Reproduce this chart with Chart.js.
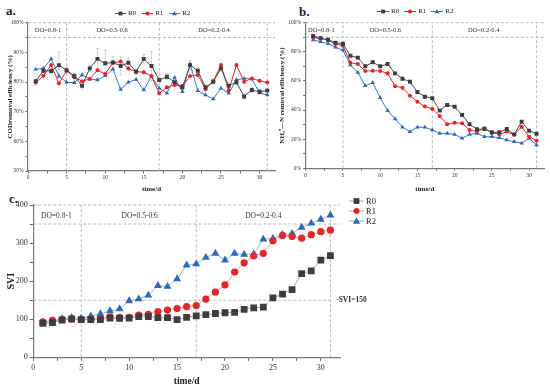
<!DOCTYPE html>
<html>
<head>
<meta charset="utf-8">
<script src="https://cdn.jsdelivr.net/npm/chart.js@4.4.1/dist/chart.umd.min.js"></script>
<style>
html, body { margin: 0; padding: 0; background: #fff; }
body { width: 550px; height: 390px; position: relative; overflow: hidden; font-family: "Liberation Serif", serif; color: #222; }
.panel { position: absolute; }
.tag { position: absolute; font-weight: bold; font-size: 13px; line-height: 1; }
.legend { position: absolute; display: flex; align-items: center; line-height: 1; }
.legend.col { flex-direction: column; align-items: flex-start; }
.item { display: flex; align-items: center; }
.item svg { display: block; }
</style>
</head>
<body>
<div class="tag" style="left:6px;top:4px">a.</div>
<div class="tag" style="left:299px;top:5px">b.</div>
<div class="tag" style="left:9px;top:192px">c.</div>

<div class="panel" style="left:0;top:0;width:280px;height:195px"><canvas id="chartA" width="280" height="195"></canvas></div>
<div class="panel" style="left:276px;top:0;width:272px;height:195px"><canvas id="chartB" width="272" height="195"></canvas></div>
<div class="panel" style="left:0;top:195px;width:400px;height:195px"><canvas id="chartC" width="400" height="195"></canvas></div>

<div class="legend" id="legA" style="left:115px;top:10px;font-size:7px"></div>
<div class="legend" id="legB" style="left:377px;top:8px;font-size:7px"></div>
<div class="legend col" id="legC" style="left:349px;top:196px;font-size:8.5px"></div>

<script>
// ---- data ----
const days = [1, 2, 3, 4, 5, 6, 7, 8, 9, 10, 11, 12, 13, 14, 15, 16, 17, 18, 19, 20, 21, 22, 23, 24, 25, 26, 27, 28, 29, 30, 31];
const seriesNames = ['R0', 'R1', 'R2'];
const phaseBreaks = [5, 17, 31];
const phaseNames = ['DO=0.8-1', 'DO=0.5-0.6', 'DO=0.2-0.4'];

// a. COD removal efficiency (%)
const codR0 = [80.3, 83.8, 83.7, 85.7, 84.0, 82.0, 78.7, 84.6, 87.8, 86.3, 86.6, 85.4, 86.5, 83.5, 87.8, 85.4, 80.7, 81.8, 79.9, 78.2, 85.7, 83.8, 78.2, 80.1, 84.6, 78.7, 79.9, 75.1, 77.3, 76.7, 77.1];
const codR1 = [79.8, 82.1, 85.7, 79.6, 83.8, 81.6, 80.3, 81.0, 84.0, 82.7, 86.5, 86.9, 84.6, 83.5, 83.3, 82.0, 76.2, 78.2, 79.0, 78.7, 82.0, 82.4, 77.6, 80.3, 85.7, 77.1, 85.7, 80.1, 81.2, 80.4, 79.8];
const codR2 = [84.3, 84.6, 87.8, 82.0, 79.9, 79.8, 82.4, 81.0, 80.7, 82.1, 84.3, 77.5, 79.9, 80.9, 77.3, 82.0, 77.9, 76.2, 81.5, 76.7, 86.0, 77.1, 75.6, 74.3, 77.9, 76.2, 80.7, 81.2, 81.0, 76.4, 75.6];
const codErrR0 = [1.5, 1, 1, 4.5, 1, 1, 1, 1, 3.5, 4.5, 2, 3, 1.5, 1, 1.5, 5, 1, 1, 1, 0.8, 1.5, 1, 1, 1, 1, 1, 1, 0.8, 0.8, 0.8, 0.8];

// b. NH4+-N removal efficiency (%)
const nhR0 = [90.9, 89.3, 88.3, 86.3, 85.6, 77.3, 76.0, 70.1, 72.8, 70.1, 71.6, 65.2, 61.5, 59.5, 52.4, 49.2, 48.1, 39.6, 43.5, 42.3, 36.6, 30.2, 26.8, 27.0, 24.7, 24.7, 27.0, 23.3, 32.0, 25.8, 23.8];
const nhR1 = [89.7, 89.3, 88.1, 85.4, 84.2, 72.5, 71.6, 66.8, 67.0, 66.8, 65.2, 56.3, 55.4, 49.9, 45.7, 42.5, 40.7, 35.9, 30.2, 31.3, 30.9, 26.3, 25.2, 27.5, 24.5, 23.3, 25.2, 23.0, 28.5, 21.7, 19.0];
const nhR2 = [88.1, 87.0, 85.6, 83.1, 81.2, 70.9, 65.9, 56.7, 58.8, 48.5, 39.6, 33.9, 28.2, 25.2, 28.2, 28.2, 26.3, 24.0, 24.0, 23.3, 20.6, 23.3, 24.0, 21.7, 21.7, 21.0, 19.4, 18.3, 17.2, 20.6, 16.0];

// c. SVI
const sviR0 = [89, 91, 98, 101, 99, 99, 99, 103, 102, 103, 107, 107, 104, 104, 99, 105, 109, 112, 115, 117, 118, 126, 130, 132, 156, 166, 178, 220, 227, 255, 267];
const sviR1 = [93, 97, 99, 100, 99, 100, 101, 106, 105, 105, 111, 113, 120, 124, 128, 133, 136, 153, 171, 190, 224, 248, 266, 273, 306, 320, 317, 313, 322, 330, 334];
const sviR2 = [91, 92, 101, 104, 102, 108, 114, 122, 127, 148, 153, 163, 188, 186, 206, 242, 245, 262, 273, 255, 273, 270, 271, 310, 312, 322, 325, 341, 352, 362, 373];

// ---- styles ----
const markColors = ['#3d3d3d', '#e2262b', '#2f69b3'];
const lineColorsAB = ['#4a4a4a', '#e2262b', '#3a77c0'];
const lineColorsC = ['#a8a8a8', '#f09a9a', '#90b9e6'];
const shapes = ['rect', 'circle', 'triangle'];
const FONT = '"Liberation Serif", serif';

Chart.defaults.font.family = FONT;
Chart.defaults.color = '#222';
Chart.defaults.animation = false;

function pts(vals) {
    return vals.map((v, i) => ({ x: days[i], y: v }));
}

/**
 * Dashed phase lines, reference lines and DO labels
 */
const phasePlugin = {
    id: 'phases',
    beforeDatasetsDraw(chart, args, o) {
        const { ctx, chartArea: a, scales: { x, y } } = chart;
        ctx.save();
        ctx.setLineDash([3, 2]);
        ctx.strokeStyle = '#a9a9a9';
        ctx.lineWidth = 0.8;
        ctx.beginPath();
        phaseBreaks.forEach(b => {
            const px = x.getPixelForValue(b);
            ctx.moveTo(px, a.bottom);
            ctx.lineTo(px, a.top);
        });
        o.hLines.forEach(h => {
            const py = y.getPixelForValue(h.v);
            ctx.moveTo(a.left, py);
            ctx.lineTo(h.to != null ? x.getPixelForValue(h.to) : a.right, py);
        });
        ctx.stroke();
        ctx.restore();

        // error bars
        chart.data.datasets.forEach((ds, di) => {
            if (!ds.errors) return;
            const meta = chart.getDatasetMeta(di);
            ctx.save();
            ctx.strokeStyle = '#bdbdbd';
            ctx.lineWidth = 0.7;
            ctx.beginPath();
            ds.data.forEach((p, i) => {
                const e = ds.errors[i];
                const px = meta.data[i].x;
                const top = y.getPixelForValue(p.y + e), bot = y.getPixelForValue(p.y - e);
                ctx.moveTo(px, top); ctx.lineTo(px, bot);
                ctx.moveTo(px - 1.5, top); ctx.lineTo(px + 1.5, top);
                ctx.moveTo(px - 1.5, bot); ctx.lineTo(px + 1.5, bot);
            });
            ctx.stroke();
            ctx.restore();
        });
    },
    afterDraw(chart, args, o) {
        const { ctx, scales: { x, y } } = chart;
        ctx.save();
        ctx.fillStyle = '#333';
        ctx.font = o.labelSize + 'px ' + FONT;
        ctx.textAlign = 'center';
        ctx.textBaseline = 'middle';
        const py = y.getPixelForValue(o.labelY);
        phaseNames.forEach((name, i) => {
            ctx.fillText(name, x.getPixelForValue(o.labelX[i]), py);
        });
        if (o.note) {
            ctx.font = 'bold ' + o.note.size + 'px ' + FONT;
            ctx.textAlign = 'left';
            ctx.fillText(o.note.text, x.getPixelForValue(o.note.x), y.getPixelForValue(o.note.y));
        }
        ctx.restore();
    }
};

function xAxis(cfg) {
    return {
        type: 'linear', min: 0, max: 32,
        ticks: {
            stepSize: 2.5, includeBounds: false, autoSkip: false, maxRotation: 0,
            font: { size: cfg.tick }, padding: cfg.tickPad, color: '#333',
            callback: v => (v % 5 === 0 ? v : '')
        },
        grid: { drawOnChartArea: false, tickLength: cfg.tickLen, color: '#666' },
        border: { color: '#777', width: 1.2 },
        title: { display: true, text: 'time/d', font: { size: cfg.title, weight: 'bold' }, padding: { top: 0, bottom: cfg.titlePad } },
        afterFit: s => { s.height = cfg.h; }
    };
}

function yAxis(cfg) {
    return {
        min: cfg.min, max: cfg.max,
        ticks: {
            stepSize: cfg.step, includeBounds: false, autoSkip: false,
            font: { size: cfg.tick }, padding: 2, color: '#333',
            callback: v => (v % cfg.major === 0 ? v + cfg.unit : '')
        },
        grid: { drawOnChartArea: false, tickLength: cfg.tickLen, color: '#666' },
        border: { color: '#777', width: 1.2 },
        title: { display: true, text: cfg.text, font: { size: cfg.title, weight: 'bold' }, padding: { top: cfg.titlePad, bottom: 0 } },
        afterFit: s => { s.width = cfg.w; }
    };
}

function smallSeries(vals, i, extra) {
    return Object.assign({
        label: seriesNames[i],
        data: pts(vals),
        borderColor: lineColorsAB[i],
        backgroundColor: markColors[i],
        borderWidth: 1,
        pointStyle: shapes[i],
        pointRadius: [2.8, 2, 2.6][i],
        pointBorderWidth: 0,
        pointBackgroundColor: markColors[i]
    }, extra || {});
}

function bigSeries(vals, i) {
    return {
        label: seriesNames[i],
        data: pts(vals),
        borderColor: lineColorsC[i],
        backgroundColor: markColors[i],
        borderWidth: 1,
        pointStyle: shapes[i],
        pointRadius: [4.8, 3.6, 4.6][i],
        pointBorderWidth: 0,
        pointBackgroundColor: markColors[i]
    };
}

/**
 * a. COD removal efficiency
 */
new Chart(document.getElementById('chartA'), {
    type: 'line',
    data: {
        datasets: [
            smallSeries(codR0, 0, { errors: codErrR0 }),
            smallSeries(codR1, 1),
            smallSeries(codR2, 2)
        ]
    },
    options: {
        responsive: false,
        layout: { padding: { left: 0, top: 22.7, right: 5, bottom: 0 } },
        plugins: {
            legend: { display: false }, tooltip: { enabled: false },
            phases: { hLines: [{ v: 100 }, { v: 95 }], labelY: 97.3, labelX: [2.6, 10.9, 24.1], labelSize: 6.5 }
        },
        scales: {
            x: xAxis({ tick: 5.5, tickPad: 1, tickLen: 2.5, title: 7, titlePad: 2, h: 24 }),
            y: yAxis({ min: 50, max: 100, step: 5, major: 10, unit: '%', tick: 5.5, tickLen: 2.5, text: 'CODremoval efficiency (%)', title: 7, titlePad: 6, w: 28 })
        }
    },
    plugins: [phasePlugin]
});

/**
 * b. NH4+-N removal efficiency
 */
new Chart(document.getElementById('chartB'), {
    type: 'line',
    data: {
        datasets: [smallSeries(nhR0, 0), smallSeries(nhR1, 1), smallSeries(nhR2, 2)]
    },
    options: {
        responsive: false,
        layout: { padding: { left: 0, top: 22.7, right: 3.7, bottom: 0 } },
        plugins: {
            legend: { display: false }, tooltip: { enabled: false },
            phases: { hLines: [{ v: 100 }, { v: 90 }], labelY: 94.5, labelX: [2.1, 10.7, 23.9], labelSize: 6.5 }
        },
        scales: {
            x: xAxis({ tick: 5.5, tickPad: 1, tickLen: 2.5, title: 7, titlePad: 2, h: 26.7 }),
            y: yAxis({ min: 0, max: 100, step: 10, major: 20, unit: '%', tick: 5.5, tickLen: 2.5, text: 'NH\u2084\u207A\u2014N removal efficiency (%)', title: 7, titlePad: 1.5, w: 29.7 })
        }
    },
    plugins: [phasePlugin]
});

/**
 * c. SVI
 */
new Chart(document.getElementById('chartC'), {
    type: 'line',
    data: {
        datasets: [bigSeries(sviR0, 0), bigSeries(sviR1, 1), bigSeries(sviR2, 2)]
    },
    options: {
        responsive: false,
        layout: { padding: { left: 0, top: 10, right: 60, bottom: 0 } },
        plugins: {
            legend: { display: false }, tooltip: { enabled: false },
            phases: {
                hLines: [{ v: 400 }, { v: 350 }, { v: 150, to: 31 }],
                labelY: 372, labelX: [2.4, 11.1, 24.0], labelSize: 7.5,
                note: { text: '-SVI=150', x: 31.6, y: 150, size: 7.5 }
            }
        },
        scales: {
            x: xAxis({ tick: 8, tickPad: 2, tickLen: 3.5, title: 9.5, titlePad: 2.5, h: 32.7 }),
            y: yAxis({ min: 0, max: 400, step: 50, major: 100, unit: '', tick: 8, tickLen: 3.5, text: 'SVI', title: 10, titlePad: 5, w: 33.3 })
        }
    },
    plugins: [phasePlugin]
});

// ---- legends ----
function legendItem(i, lineColor, w, size, gap) {
    const h = Math.ceil(size * 2 + 2), cx = w / 2, cy = h / 2;
    let mark;
    if (shapes[i] === 'rect') {
        mark = `<rect x="${cx - size * 0.8}" y="${cy - size * 0.8}" width="${size * 1.6}" height="${size * 1.6}" fill="${markColors[i]}"/>`;
    } else if (shapes[i] === 'circle') {
        mark = `<circle cx="${cx}" cy="${cy}" r="${size * 0.85}" fill="${markColors[i]}"/>`;
    } else {
        mark = `<polygon points="${cx},${cy - size} ${cx + size},${cy + size * 0.75} ${cx - size},${cy + size * 0.75}" fill="${markColors[i]}"/>`;
    }
    return `<span class="item" style="margin-right:${gap}px"><svg width="${w}" height="${h}">` +
        `<line x1="0" y1="${cy}" x2="${w}" y2="${cy}" stroke="${lineColor}" stroke-width="1"/>${mark}</svg>` +
        `<span style="margin-left:2px">${seriesNames[i]}</span></span>`;
}

document.getElementById('legA').innerHTML = seriesNames.map((n, i) => legendItem(i, lineColorsAB[i], 11, 2.4, 6)).join('');
document.getElementById('legB').innerHTML = seriesNames.map((n, i) => legendItem(i, lineColorsAB[i], 12, 2.4, 5)).join('');
document.getElementById('legC').innerHTML = seriesNames.map((n, i) => legendItem(i, lineColorsC[i], 15, 3.6, 0)).join('');
</script>
</body>
</html>
